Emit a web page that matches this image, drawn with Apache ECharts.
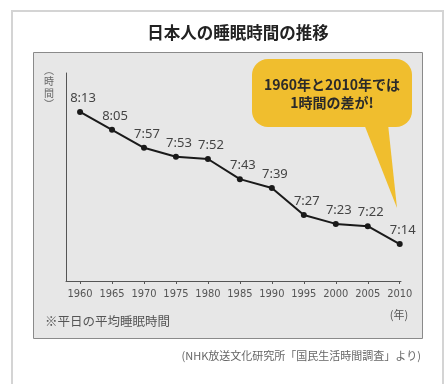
<!DOCTYPE html>
<html><head><meta charset="utf-8">
<script src="https://cdn.jsdelivr.net/npm/echarts@6/dist/echarts.min.js"></script>
<style>html,body{margin:0;padding:0;background:#fff}#c{width:446px;height:384px}</style>
</head><body><div id="c"></div>
<script>
const years = [1960,1965,1970,1975,1980,1985,1990,1995,2000,2005,2010];
const sleepMinutes = [493,485,477,473,472,463,459,447,443,442,434]; // 8:13 ... 7:14
const tickYears = [1960,1965,1970,1975,1980,1985,1990,1995,2000,2005,2010];
const titleText = '日本人の睡眠時間の推移';
const calloutLines = ['1960年と2010年では','1時間の差が!'];
const noteText = '※平日の平均睡眠時間';
const sourceText = '(NHK放送文化研究所「国民生活時間調査」より)';
const yNameChars = ['︵','時','間','︶'];

const fmt = m => Math.floor(m/60) + ':' + String(m%60).padStart(2,'0');
const jp = '"Noto Sans CJK JP", "Noto Sans", sans-serif';

const yNameY = [70, 81, 93, 104];
const yNameGraphics = yNameChars.map((ch, i) => ({
  type: 'text', x: 49, y: yNameY[i], z: 5,
  style: {text: ch, fill: '#666', font: '10px ' + jp, align: 'center', verticalAlign: 'middle'}
}));

const chart = echarts.init(document.getElementById('c'));
chart.setOption({
  animation: false,
  backgroundColor: '#fff',
  grid: {left: 66, right: 45, top: 73, bottom: 103},
  xAxis: {
    type: 'value', min: 1957.8, max: 2010.2,
    splitLine: {show: false},
    axisLine: {show: true, lineStyle: {color: '#555', width: 1}},
    axisTick: {show: true, length: 3, customValues: tickYears, lineStyle: {color: '#555'}},
    axisLabel: {customValues: tickYears, color: '#555', fontSize: 11, margin: 8,
      formatter: v => String(v),
      fontFamily: '"Liberation Sans Narrow", "DejaVu Sans Condensed", sans-serif'}
  },
  yAxis: {
    type: 'value', min: 417.5, max: 510.4,
    splitLine: {show: false},
    axisLine: {show: true, lineStyle: {color: '#555', width: 1}},
    axisTick: {show: false}, axisLabel: {show: false}
  },
  graphic: [
    {type: 'rect', z: -10, shape: {x: 12, y: 11, width: 431, height: 380}, style: {fill: '#fff', stroke: '#d4d4d4', lineWidth: 2}},
    {type: 'rect', z: -9, shape: {x: 33.5, y: 52.5, width: 389, height: 286}, style: {fill: '#e7e7e7', stroke: '#8a8a8a', lineWidth: 1}},
    {type: 'text', x: 238, y: 33, z: 5, style: {text: titleText, fill: '#222', font: 'bold 16.5px ' + jp, align: 'center', verticalAlign: 'middle'}},
    ...yNameGraphics,
    {type: 'polygon', z: 3, shape: {points: [[364,124],[388,124],[397,208]]}, style: {fill: '#f0be2e'}},
    {type: 'rect', z: 3, shape: {x: 252, y: 59, width: 160, height: 68, r: 16}, style: {fill: '#f0be2e'}},
    {type: 'text', x: 332, y: 85, z: 4, style: {text: calloutLines[0], fill: '#2a2a2a', font: 'bold 14px ' + jp, align: 'center', verticalAlign: 'middle'}},
    {type: 'text', x: 332, y: 103, z: 4, style: {text: calloutLines[1], fill: '#2a2a2a', font: 'bold 14px ' + jp, align: 'center', verticalAlign: 'middle'}},
    {type: 'text', x: 399, y: 315, z: 5, style: {text: '(年)', fill: '#555', font: '11px ' + jp, align: 'center', verticalAlign: 'middle'}},
    {type: 'text', x: 45, y: 321, z: 5, style: {text: noteText, fill: '#555', font: '12.5px ' + jp, verticalAlign: 'middle'}},
    {type: 'text', x: 421, y: 356, z: 5, style: {text: sourceText, fill: '#666', font: '11px ' + jp, align: 'right', verticalAlign: 'middle'}}
  ],
  series: [{
    type: 'line',
    data: years.map((y,i) => [y, sleepMinutes[i]]),
    lineStyle: {color: '#1a1a1a', width: 2},
    itemStyle: {color: '#1a1a1a'},
    symbol: 'circle', symbolSize: 6,
    label: {show: true, position: 'top', distance: 5, offset: [3, 1],
      formatter: p => fmt(p.value[1]), color: '#444', fontSize: 13,
      fontFamily: '"Noto Sans", sans-serif'}
  }]
});
</script></body></html>
